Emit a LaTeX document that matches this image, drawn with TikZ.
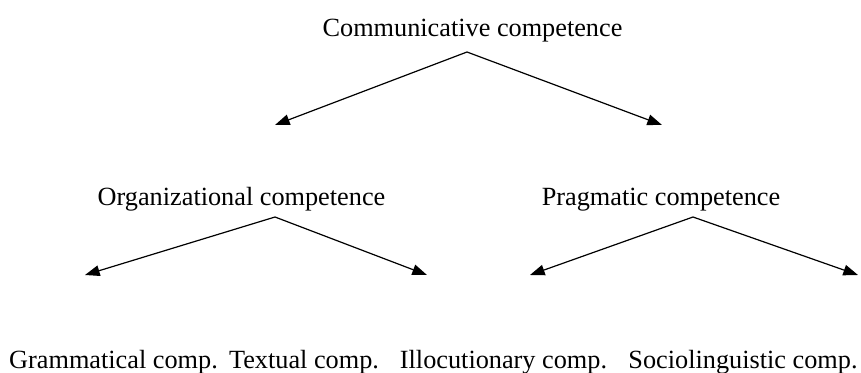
\documentclass[tikz,border=0pt]{standalone}
\usepackage{fontspec}
\setmainfont{Liberation Serif}
\usetikzlibrary{arrows.meta}

\tikzset{
  label text/.style={anchor=base, inner sep=0.75pt, font=\fontsize{19.7}{23}\selectfont},
  branch/.style={line width=0.9, -{Triangle[length=11, width=8]}},
}

\begin{document}
\begin{tikzpicture}[x=0.75pt,y=0.75pt,yscale=-1,xscale=1]
\useasboundingbox (0,0) rectangle (861,372);

% Text Node
\node[label text] (comm) at (472.5,36) {Communicative competence};
% Text Node
\node[label text] (org) at (241.5,205) {Organizational competence};
% Text Node
\node[label text] (prag) at (661,205) {Pragmatic competence};
% Text Node
\node[label text] (gram) at (113.5,368) {Grammatical comp.};
% Text Node
\node[label text] (text) at (304,368) {Textual comp.};
% Text Node
\node[label text] (illoc) at (503.5,368) {Illocutionary comp.};
% Text Node
\node[label text] (socio) at (743,368) {Sociolinguistic comp.};

% apex and tip points
\coordinate (comm apex) at (467,52);
\coordinate (comm left) at (275,125);
\coordinate (comm right) at (662,125);
\coordinate (org apex) at (275,217);
\coordinate (org left) at (85,275);
\coordinate (org right) at (427,275);
\coordinate (prag apex) at (693,217);
\coordinate (prag left) at (530,275);
\coordinate (prag right) at (858,275);

%Straight Lines
\draw[branch] (comm apex) -- (comm left);
\draw[branch] (comm apex) -- (comm right);
%Straight Lines
\draw[branch] (org apex) -- (org left);
\draw[branch] (org apex) -- (org right);
%Straight Lines
\draw[branch] (prag apex) -- (prag left);
\draw[branch] (prag apex) -- (prag right);

\end{tikzpicture}
\end{document}
